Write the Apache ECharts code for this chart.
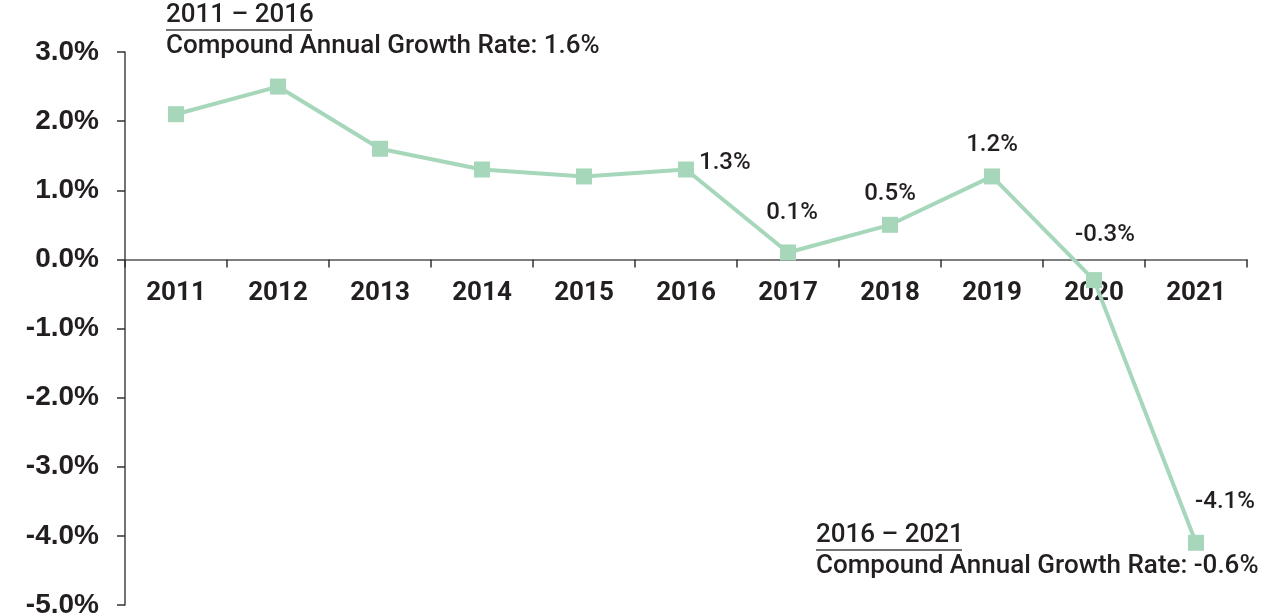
<!DOCTYPE html>
<html>
<head>
<meta charset="utf-8">
<script src="https://cdn.jsdelivr.net/npm/echarts@6/dist/echarts.min.js"></script>
<style>
  html, body { margin: 0; padding: 0; background: #fff; }
  #chart { width: 1274px; height: 614px; }
</style>
</head>
<body>
<div id="chart"></div>
<script>
const years = ['2011', '2012', '2013', '2014', '2015', '2016', '2017', '2018', '2019', '2020', '2021'];
const growth = [2.1, 2.5, 1.6, 1.3, 1.2, 1.3, 0.1, 0.5, 1.2, -0.3, -4.1];
const yTicks = { min: -5, max: 3, step: 1 };
const cagrNotes = [
  { period: '2011 \u2013 2016', text: 'Compound Annual Growth Rate: 1.6%' },
  { period: '2016 \u2013 2021', text: 'Compound Annual Growth Rate: -0.6%' }
];

// which points get a value label, and where
const labelSpots = {
  5: { position: 'right', offset: [0, -7] },
  6: { position: 'top', offset: [4, -14] },
  7: { position: 'top', offset: [0, -6] },
  8: { position: 'top', offset: [0, -6] },
  9: { position: 'top', offset: [11, -20] },
  10: { position: 'top', offset: [29, -16] }
};

const green = '#a6d7bb';
const ink = '#231f20';

const gridBox = { left: 125, right: 27, top: 52, bottom: 9 };
const gridH = 614 - gridBox.top - gridBox.bottom;
// x axis sits on the zero line: lift it from the grid bottom
const zeroLift = gridH * (0 - yTicks.min) / (yTicks.max - yTicks.min);

const chart = echarts.init(document.getElementById('chart'));

const seriesData = growth.map((v, i) => {
  const spot = labelSpots[i];
  return {
    value: v,
    label: spot ? { show: true, position: spot.position, offset: spot.offset } : { show: false }
  };
});

function note(n, x, y, underlineW) {
  return [
    {
      type: 'text', left: x, top: y,
      style: { text: n.period, font: '500 26px Roboto', fill: ink }
    },
    {
      type: 'line', shape: { x1: x, y1: y + 28, x2: x + underlineW, y2: y + 28 },
      style: { stroke: '#444', lineWidth: 1.5 }
    },
    {
      type: 'text', left: x, top: y + 31,
      style: { text: n.text, font: '500 26px Roboto', fill: ink }
    }
  ];
}

chart.setOption({
  animation: false,
  grid: Object.assign({ containLabel: false, outerBoundsMode: 'none' }, gridBox),
  xAxis: {
    type: 'category',
    data: years,
    boundaryGap: true,
    position: 'bottom',
    offset: -zeroLift,
    axisLine: { onZero: false, lineStyle: { color: '#555', width: 1.5 } },
    axisTick: { show: true, length: 8, lineStyle: { color: '#333', width: 1.5 } },
    axisLabel: { margin: 21, fontFamily: 'Roboto', fontWeight: 'bold', fontSize: 26, color: ink }
  },
  yAxis: {
    type: 'value',
    min: yTicks.min, max: yTicks.max, interval: yTicks.step,
    splitLine: { show: false },
    axisLine: { show: true, lineStyle: { color: '#444', width: 1.5 } },
    axisTick: { show: true, length: 8, lineStyle: { color: '#333', width: 1.5 } },
    axisLabel: {
      margin: 26,
      fontFamily: 'Liberation Sans', fontWeight: 'bold', fontSize: 28, color: ink,
      formatter: v => v.toFixed(1) + '%'
    }
  },
  series: [{
    type: 'line',
    data: seriesData,
    symbol: 'rect',
    symbolSize: 16,
    lineStyle: { color: green, width: 4 },
    itemStyle: { color: green },
    label: {
      fontFamily: 'Roboto', fontWeight: 500, fontSize: 24, color: ink,
      formatter: p => p.value.toFixed(1) + '%'
    }
  }],
  graphic: [
    ...note(cagrNotes[0], 166, 2, 146),
    ...note(cagrNotes[1], 816, 522, 146)
  ]
});
</script>
</body>
</html>
